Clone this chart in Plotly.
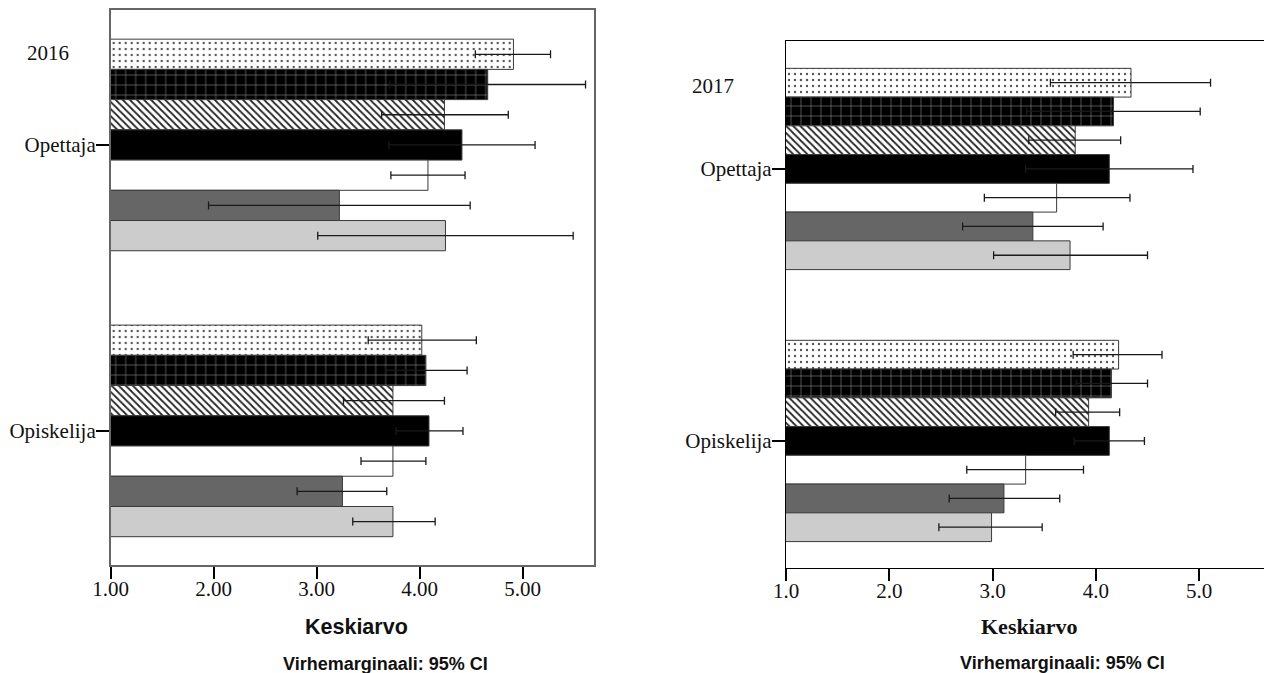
import plotly.graph_objects as go

# ---------------- data ----------------
groups = ["Opettaja", "Opiskelija"]
series = ["S1", "S2", "S3", "S4", "S5", "S6", "S7"]

opettaja_2016_mean = [4.91, 4.66, 4.24, 4.41, 4.08, 3.22, 4.25]
opettaja_2016_lo = [4.54, 3.71, 3.63, 3.70, 3.72, 1.95, 3.01]
opettaja_2016_hi = [5.27, 5.61, 4.86, 5.12, 4.44, 4.49, 5.49]
opiskelija_2016_mean = [4.02, 4.06, 3.74, 4.09, 3.74, 3.25, 3.74]
opiskelija_2016_lo = [3.50, 3.67, 3.26, 3.77, 3.43, 2.81, 3.35]
opiskelija_2016_hi = [4.55, 4.46, 4.24, 4.42, 4.06, 3.68, 4.15]

opettaja_2017_mean = [4.34, 4.17, 3.80, 4.13, 3.62, 3.39, 3.75]
opettaja_2017_lo = [3.56, 3.33, 3.35, 3.32, 2.92, 2.71, 3.01]
opettaja_2017_hi = [5.11, 5.01, 4.24, 4.94, 4.33, 4.07, 4.50]
opiskelija_2017_mean = [4.22, 4.15, 3.93, 4.13, 3.32, 3.11, 2.99]
opiskelija_2017_lo = [3.78, 3.81, 3.61, 3.79, 2.75, 2.58, 2.48]
opiskelija_2017_hi = [4.64, 4.50, 4.23, 4.47, 3.88, 3.65, 3.48]

tick_vals = [1, 2, 3, 4, 5]
ticks_2016 = ["1.00", "2.00", "3.00", "4.00", "5.00"]
ticks_2017 = ["1.0", "2.0", "3.0", "4.0", "5.0"]

# ---------------- styles ----------------
styles = [
    dict(color="white", pattern=dict(shape=".", fgcolor="#555555", bgcolor="white", size=6, solidity=0.12, fillmode="replace")),
    dict(color="black", pattern=dict(shape="+", fgcolor="#9a9a9a", bgcolor="black", size=10, solidity=0.1, fillmode="replace")),
    dict(color="white", pattern=dict(shape="\\", fgcolor="#222222", bgcolor="white", size=5, solidity=0.35, fillmode="replace")),
    dict(color="black"),
    dict(color="white"),
    dict(color="#666666"),
    dict(color="#cccccc"),
]

SERIF = "Liberation Serif, Times New Roman, serif"
SANS = "Liberation Sans, Arial, sans-serif"

# page has an 8px body margin; figure is sized/positioned to compensate
OFF = 8
W, H = 1272 - OFF, 673 - OFF


def fx(px):
    return (px - OFF) / W


def fy(py):
    return 1 - (py - OFF) / H


fig = go.Figure()

panels = [
    (opettaja_2016_mean, opettaja_2016_lo, opettaja_2016_hi,
     opiskelija_2016_mean, opiskelija_2016_lo, opiskelija_2016_hi, "x", "y"),
    (opettaja_2017_mean, opettaja_2017_lo, opettaja_2017_hi,
     opiskelija_2017_mean, opiskelija_2017_lo, opiskelija_2017_hi, "x2", "y2"),
]

for (om, olo, ohi, sm, slo, shi, xa, ya) in panels:
    for i, name in enumerate(series):
        vals = [om[i], sm[i]]
        lo = [olo[i], slo[i]]
        hi = [ohi[i], shi[i]]
        st = styles[i]
        marker = dict(color=st["color"], line=dict(color="#3a3a3a", width=1))
        if "pattern" in st:
            marker["pattern"] = st["pattern"]
        fig.add_trace(go.Bar(
            name=name, y=groups, x=vals, orientation="h",
            base=0, marker=marker, xaxis=xa, yaxis=ya, showlegend=False,
            error_x=dict(type="data", symmetric=False,
                         array=[h - v for h, v in zip(hi, vals)],
                         arrayminus=[v - l for v, l in zip(vals, lo)],
                         color="#1a1a1a", thickness=1.3, width=4),
        ))

fig.update_layout(
    width=W, height=H,
    margin=dict(l=0, r=0, t=0, b=0),
    paper_bgcolor="white", plot_bgcolor="white",
    barmode="group", bargap=0.26, bargroupgap=0,
    xaxis=dict(domain=[fx(110.7), fx(594.3)], range=[1, 5.695],
               tickvals=tick_vals, ticktext=ticks_2016,
               showgrid=False, zeroline=False,
               showline=True, mirror=True, linecolor="#666666", linewidth=1.5,
               ticks="outside", ticklen=12, tickwidth=2, tickcolor="black",
               ticklabelstandoff=-8,
               tickfont=dict(family=SERIF, size=21, color="#111111"),
               anchor="y", automargin=False),
    yaxis=dict(domain=[fy(565), fy(10)], range=[1.469, -0.472],
               type="category", showgrid=False, zeroline=False,
               showline=True, mirror=True, linecolor="#666666", linewidth=1.5,
               ticks="outside", ticklen=13, tickwidth=2, tickcolor="black",
               ticklabelstandoff=-4,
               tickfont=dict(family=SERIF, size=21, color="#111111"),
               anchor="x", automargin=False),
    xaxis2=dict(domain=[fx(786), 1.0], range=[1, 5.705],
                tickvals=tick_vals, ticktext=ticks_2017,
                showgrid=False, zeroline=False,
                showline=True, mirror=True, linecolor="black", linewidth=1.2,
                ticks="outside", ticklen=12, tickwidth=2, tickcolor="black",
                ticklabelstandoff=-8,
                tickfont=dict(family=SERIF, size=21, color="#111111"),
                anchor="y2", automargin=False),
    yaxis2=dict(domain=[fy(567.7), fy(41)], range=[1.466, -0.4705],
                type="category", showgrid=False, zeroline=False,
                showline=True, mirror=False, linecolor="black", linewidth=1.2,
                ticks="outside", ticklen=13, tickwidth=2, tickcolor="black",
                ticklabelstandoff=-4,
                tickfont=dict(family=SERIF, size=21, color="#111111"),
                anchor="x2", automargin=False),
)

annotations = [
    dict(text="2016", x=fx(25), y=fy(53), xanchor="left", yanchor="middle",
         font=dict(family=SERIF, size=21, color="#111111")),
    dict(text="2017", x=fx(690), y=fy(86), xanchor="left", yanchor="middle",
         font=dict(family=SERIF, size=21, color="#111111")),
    dict(text="<b>Keskiarvo</b>", x=fx(357), y=fy(627), xanchor="center", yanchor="middle",
         font=dict(family=SANS, size=21.5, color="#111111")),
    dict(text="<b>Virhemarginaali: 95% CI</b>", x=fx(385.6), y=fy(664), xanchor="center", yanchor="middle",
         font=dict(family=SANS, size=18, color="#111111")),
    dict(text="<b>Keskiarvo</b>", x=fx(1029.5), y=fy(626), xanchor="center", yanchor="middle",
         font=dict(family=SERIF, size=22, color="#111111")),
    dict(text="<b>Virhemarginaali: 95% CI</b>", x=fx(1062), y=fy(663), xanchor="center", yanchor="middle",
         font=dict(family=SANS, size=18, color="#111111")),
]
for a in annotations:
    a.update(xref="paper", yref="paper", showarrow=False)
fig.update_layout(annotations=annotations)

fig.write_html("out.html")
